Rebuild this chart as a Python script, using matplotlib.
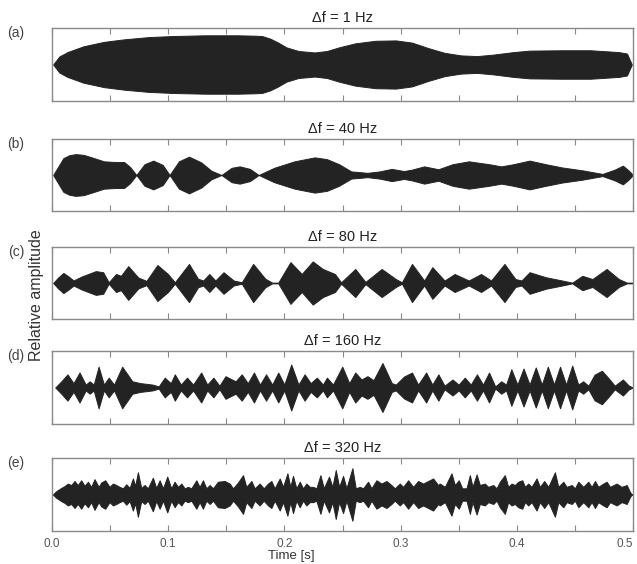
import matplotlib
matplotlib.use("Agg")
import matplotlib.pyplot as plt

plt.rcParams['font.family'] = ['Liberation Sans', 'DejaVu Sans']

# envelope: time [s] and relative amplitude (fraction of half axis height)
t_a = [0.0010, 0.0063, 0.0133, 0.0272, 0.0447, 0.0621, 0.0830, 0.1040, 0.1319, 0.1598,
       0.1738, 0.1807, 0.1877, 0.1947, 0.2017, 0.2121, 0.2261, 0.2366, 0.2470, 0.2610,
       0.2784, 0.2959, 0.3098, 0.3238, 0.3378, 0.3517, 0.3657, 0.3796, 0.3971, 0.4110,
       0.4389, 0.4634, 0.4878, 0.4948, 0.4990]
amp_a = [0.00, 0.22, 0.34, 0.50, 0.62, 0.69, 0.75, 0.78, 0.80, 0.80,
         0.79, 0.78, 0.71, 0.60, 0.47, 0.37, 0.33, 0.37, 0.47, 0.58,
         0.65, 0.66, 0.60, 0.45, 0.32, 0.25, 0.23, 0.27, 0.34, 0.38,
         0.39, 0.39, 0.34, 0.30, 0.00]

t_b = [0.0010, 0.0098, 0.0150, 0.0202, 0.0272, 0.0342, 0.0447, 0.0551, 0.0621, 0.0673,
       0.0726, 0.0796, 0.0872, 0.0953, 0.1012, 0.1092, 0.1179, 0.1284, 0.1371, 0.1458,
       0.1546, 0.1615, 0.1703, 0.1779, 0.1912, 0.2087, 0.2261, 0.2366, 0.2470, 0.2575,
       0.2715, 0.2819, 0.2924, 0.3029, 0.3098, 0.3203, 0.3325, 0.3447, 0.3587, 0.3761,
       0.3866, 0.3971, 0.4110, 0.4250, 0.4389, 0.4564, 0.4738, 0.4843, 0.4913, 0.4965,
       0.5000]
amp_b = [0.00, 0.47, 0.55, 0.58, 0.56, 0.49, 0.38, 0.36, 0.36, 0.22,
         0.00, 0.30, 0.40, 0.28, 0.00, 0.38, 0.51, 0.35, 0.12, 0.00,
         0.20, 0.24, 0.17, 0.00, 0.20, 0.38, 0.49, 0.44, 0.30, 0.10,
         0.06, 0.10, 0.17, 0.11, 0.15, 0.24, 0.16, 0.30, 0.38, 0.30,
         0.24, 0.30, 0.40, 0.30, 0.21, 0.13, 0.03, 0.15, 0.26, 0.12,
         0.00]

t_c = [0.0010, 0.0052, 0.0098, 0.0143, 0.0185, 0.0255, 0.0377, 0.0440, 0.0488, 0.0551,
       0.0593, 0.0656, 0.0743, 0.0813, 0.0907, 0.0998, 0.1057, 0.1179, 0.1256, 0.1301,
       0.1354, 0.1406, 0.1476, 0.1563, 0.1633, 0.1731, 0.1835, 0.1895, 0.1947, 0.2052,
       0.2149, 0.2244, 0.2331, 0.2435, 0.2488, 0.2610, 0.2697, 0.2837, 0.2959, 0.3011,
       0.3098, 0.3203, 0.3273, 0.3378, 0.3465, 0.3587, 0.3692, 0.3779, 0.3894, 0.3988,
       0.4041, 0.4110, 0.4250, 0.4389, 0.4477, 0.4564, 0.4651, 0.4773, 0.4878, 0.4948,
       0.5000]
amp_c = [0.00, 0.15, 0.28, 0.18, 0.07, 0.18, 0.33, 0.30, 0.02, 0.25,
         0.20, 0.47, 0.15, 0.06, 0.50, 0.25, 0.02, 0.53, 0.12, 0.07,
         0.25, 0.07, 0.30, 0.07, 0.02, 0.53, 0.12, 0.01, 0.01, 0.58,
         0.25, 0.60, 0.39, 0.25, 0.02, 0.39, 0.03, 0.39, 0.11, 0.02,
         0.53, 0.07, 0.44, 0.07, 0.25, 0.07, 0.25, 0.07, 0.53, 0.11,
         0.07, 0.30, 0.16, 0.07, 0.01, 0.20, 0.11, 0.39, 0.11, 0.01,
         0.01]

t_d = [0.0028, 0.0080, 0.0133, 0.0185, 0.0237, 0.0290, 0.0324, 0.0359, 0.0401, 0.0447,
       0.0488, 0.0534, 0.0604, 0.0691, 0.0761, 0.0865, 0.0918, 0.0970, 0.1022, 0.1057,
       0.1109, 0.1162, 0.1214, 0.1284, 0.1336, 0.1389, 0.1441, 0.1493, 0.1580, 0.1633,
       0.1685, 0.1738, 0.1790, 0.1842, 0.1895, 0.1947, 0.1999, 0.2059, 0.2121, 0.2174,
       0.2226, 0.2279, 0.2331, 0.2366, 0.2418, 0.2498, 0.2558, 0.2610, 0.2663, 0.2715,
       0.2767, 0.2844, 0.2924, 0.2959, 0.3029, 0.3098, 0.3151, 0.3220, 0.3273, 0.3325,
       0.3378, 0.3447, 0.3499, 0.3552, 0.3604, 0.3657, 0.3709, 0.3761, 0.3814, 0.3866,
       0.3908, 0.3953, 0.4005, 0.4058, 0.4110, 0.4163, 0.4215, 0.4267, 0.4320, 0.4372,
       0.4424, 0.4477, 0.4529, 0.4571, 0.4616, 0.4669, 0.4732, 0.4791, 0.4843, 0.4913,
       0.4965, 0.5000]
amp_d = [0.00, 0.17, 0.36, 0.12, 0.41, 0.08, 0.17, 0.08, 0.57, 0.08,
         0.27, 0.08, 0.57, 0.17, 0.12, 0.08, 0.03, 0.27, 0.12, 0.36,
         0.08, 0.27, 0.08, 0.41, 0.08, 0.27, 0.05, 0.31, 0.17, 0.36,
         0.12, 0.41, 0.08, 0.36, 0.08, 0.41, 0.08, 0.63, 0.08, 0.36,
         0.12, 0.27, 0.08, 0.27, 0.08, 0.57, 0.12, 0.41, 0.22, 0.31,
         0.20, 0.67, 0.12, 0.08, 0.30, 0.41, 0.08, 0.41, 0.08, 0.36,
         0.05, 0.22, 0.08, 0.27, 0.08, 0.36, 0.08, 0.41, 0.03, 0.17,
         0.08, 0.50, 0.08, 0.52, 0.08, 0.55, 0.08, 0.57, 0.08, 0.57,
         0.08, 0.60, 0.08, 0.17, 0.05, 0.35, 0.46, 0.25, 0.05, 0.22,
         0.05, 0.00]

t_e = [0.0007, 0.0036, 0.0079, 0.0108, 0.0136, 0.0165, 0.0194, 0.0222, 0.0251, 0.0280,
       0.0309, 0.0337, 0.0366, 0.0401, 0.0424, 0.0458, 0.0495, 0.0524, 0.0553, 0.0581,
       0.0610, 0.0639, 0.0668, 0.0696, 0.0716, 0.0739, 0.0768, 0.0797, 0.0825, 0.0868,
       0.0897, 0.0926, 0.0955, 0.0992, 0.1026, 0.1055, 0.1084, 0.1113, 0.1141, 0.1170,
       0.1199, 0.1242, 0.1270, 0.1299, 0.1328, 0.1357, 0.1385, 0.1428, 0.1486, 0.1529,
       0.1558, 0.1601, 0.1644, 0.1672, 0.1716, 0.1744, 0.1787, 0.1822, 0.1859, 0.1888,
       0.1916, 0.1960, 0.1988, 0.2026, 0.2051, 0.2074, 0.2103, 0.2132, 0.2160, 0.2189,
       0.2218, 0.2247, 0.2275, 0.2310, 0.2339, 0.2384, 0.2413, 0.2442, 0.2471, 0.2505,
       0.2534, 0.2585, 0.2614, 0.2649, 0.2677, 0.2720, 0.2749, 0.2792, 0.2835, 0.2878,
       0.2921, 0.2950, 0.2993, 0.3022, 0.3065, 0.3108, 0.3151, 0.3194, 0.3237, 0.3280,
       0.3323, 0.3338, 0.3381, 0.3438, 0.3467, 0.3501, 0.3530, 0.3567, 0.3596, 0.3619,
       0.3654, 0.3682, 0.3725, 0.3754, 0.3797, 0.3826, 0.3854, 0.3897, 0.3926, 0.3955,
       0.3984, 0.4012, 0.4047, 0.4070, 0.4098, 0.4127, 0.4170, 0.4199, 0.4236, 0.4271,
       0.4328, 0.4357, 0.4400, 0.4429, 0.4472, 0.4500, 0.4529, 0.4572, 0.4615, 0.4644,
       0.4673, 0.4701, 0.4744, 0.4773, 0.4802, 0.4859, 0.4902, 0.4946, 0.4974, 0.4989,
       0.5000]
amp_e = [0.00, 0.09, 0.18, 0.23, 0.30, 0.26, 0.37, 0.26, 0.39, 0.24,
         0.35, 0.21, 0.42, 0.21, 0.33, 0.39, 0.21, 0.30, 0.26, 0.21,
         0.17, 0.28, 0.18, 0.44, 0.24, 0.61, 0.18, 0.26, 0.17, 0.46,
         0.18, 0.39, 0.17, 0.49, 0.17, 0.35, 0.21, 0.30, 0.17, 0.21,
         0.17, 0.39, 0.21, 0.39, 0.17, 0.26, 0.17, 0.35, 0.37, 0.30,
         0.17, 0.33, 0.53, 0.21, 0.37, 0.17, 0.30, 0.17, 0.30, 0.37,
         0.17, 0.44, 0.21, 0.58, 0.21, 0.51, 0.17, 0.35, 0.17, 0.30,
         0.21, 0.21, 0.17, 0.53, 0.17, 0.49, 0.21, 0.67, 0.21, 0.51,
         0.17, 0.72, 0.17, 0.21, 0.17, 0.35, 0.17, 0.39, 0.30, 0.37,
         0.26, 0.17, 0.30, 0.21, 0.39, 0.21, 0.37, 0.30, 0.37, 0.44,
         0.26, 0.30, 0.21, 0.58, 0.26, 0.39, 0.17, 0.17, 0.53, 0.21,
         0.55, 0.26, 0.30, 0.21, 0.26, 0.17, 0.35, 0.53, 0.21, 0.30,
         0.26, 0.35, 0.39, 0.21, 0.30, 0.21, 0.44, 0.21, 0.37, 0.21,
         0.61, 0.21, 0.35, 0.21, 0.26, 0.17, 0.35, 0.21, 0.35, 0.21,
         0.37, 0.21, 0.30, 0.35, 0.21, 0.30, 0.21, 0.26, 0.07, 0.00,
         0.00]

panel_labels = ['(a)', '(b)', '(c)', '(d)', '(e)']
titles = ['\u0394f = 1 Hz', '\u0394f = 40 Hz', '\u0394f = 80 Hz', '\u0394f = 160 Hz', '\u0394f = 320 Hz']
x_ticks = [0.0, 0.1, 0.2, 0.3, 0.4, 0.5]
x_tick_labels = ['0.0', '0.1', '0.2', '0.3', '0.4', '0.5']
x_minor = [0.05, 0.15, 0.25, 0.35, 0.45]

series = [(t_a, amp_a), (t_b, amp_b), (t_c, amp_c), (t_d, amp_d), (t_e, amp_e)]

W, H = 637, 564
fig = plt.figure(figsize=(W / 100, H / 100), dpi=100)

boxes = [(28, 101), (139, 211), (247, 319), (351, 424), (458, 531)]
left_px, right_px = 52, 633

wave_color = '#232323'
spine_color = '#8a8a8a'

for i, ((top, bot), (t, amp)) in enumerate(zip(boxes, series)):
    ax = fig.add_axes([left_px / W, 1 - bot / H, (right_px - left_px) / W, (bot - top) / H])
    lower = [-a for a in amp]
    ax.fill_between(t, lower, amp, color=wave_color, edgecolor=wave_color, linewidth=0.7)
    ax.set_xlim(0, 0.5)
    ax.set_ylim(-1, 1)
    ax.set_yticks([])
    ax.set_xticks(x_ticks)
    ax.set_xticks(x_minor, minor=True)
    ax.tick_params(axis='x', which='both', direction='in', length=4, width=0.8,
                   top=True, bottom=True, color=spine_color)
    for sp in ax.spines.values():
        sp.set_color(spine_color)
        sp.set_linewidth(1.0)
    if i == len(series) - 1:
        ax.set_xticklabels(x_tick_labels, fontsize=8.5, color='#555555')
        ax.tick_params(axis='x', pad=5)
        # last label sits at the right edge of the figure; keep it inside
        ax.get_xticklabels()[-1].set_horizontalalignment('right')
    else:
        ax.set_xticklabels([])
    ax.set_title(titles[i], fontsize=10.5, color='#222222', pad=4)
    fig.text(16 / W, 1 - (top + 5) / H, panel_labels[i], fontsize=10, color='#444444',
             ha='center', va='center')

fig.text(37 / W, 1 - 295 / H, 'Relative amplitude', rotation=90, fontsize=11.5,
         color='#333333', ha='center', va='center')
fig.text(291 / W, 1 - 556 / H, 'Time [s]', fontsize=9.5, color='#333333',
         ha='center', va='center')

fig.savefig('out.png', dpi=100)
